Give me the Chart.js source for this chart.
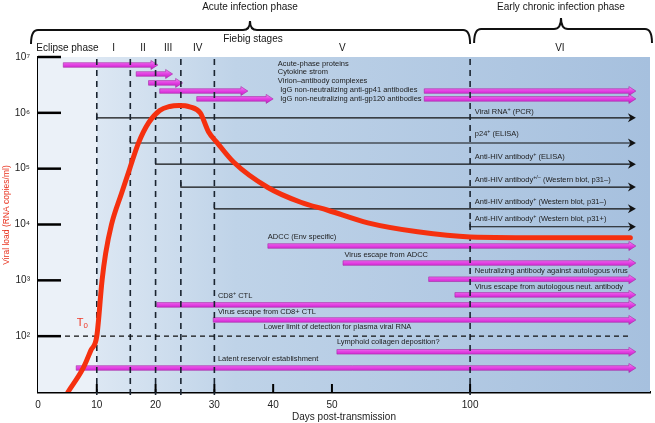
<!DOCTYPE html>
<html>
<head>
<meta charset="utf-8">
<script src="https://cdn.jsdelivr.net/npm/chart.js@4/dist/chart.umd.min.js"></script>
<style>
  html, body { margin: 0; background: #fff; }
  #wrap { width: 655px; height: 423px; }
</style>
</head>
<body>
<div id="wrap"><canvas id="chartViralLoad"></canvas></div>
<script>
/** Viral load curve (days post-transmission, RNA copies/ml) */
const curveDays = [5.1, 7.7, 9.0, 10, 10.9, 11.5, 12.5, 14.2, 15.6, 17.1, 18.8, 20.7, 22.4, 24, 25.8, 27.6, 29, 30.5, 33.3, 39.1, 44.7, 49.3, 63, 81, 100, 130, 158];
const viralLoad = [10, 27, 56, 100, 1000, 3000, 10000, 36000, 100000, 290000, 660000, 1100000, 1300000, 1350000, 1280000, 1000000, 460000, 290000, 130000, 46000, 25000, 18000, 10700, 7400, 6000, 5800, 5800];
const detectionLimit = 100;

/** Axis ticks */
const xTickDays = [0, 10, 20, 30, 40, 50, 100];
const yTickPowers = [2, 3, 4, 5, 6, 7];

/** Fiebig stages: boundaries in days, and names */
const stageBounds = [0, 10, 15.7, 20, 24.3, 30, 100, 165];
const stageNames = ['Eclipse phase', 'I', 'II', 'III', 'IV', 'V', 'VI'];

/** Host responses (magenta arrows): start and end day */
const responseStart = [4.3, 16.7, 18.8, 20.7, 27, 83.4, 83.4, 39.1, 54, 85, 94.5, 20.2, 29.8, 51.8, 6.5];
const responseEnd = [20.4, 22.9, 24.6, 35.7, 40, 160, 160, 160, 160, 160, 160, 160, 160, 160, 160];
// vertical row of each arrow, in log10 units of the viral load axis
const responseRow = [6.857, 6.696, 6.536, 6.39, 6.25, 6.39, 6.25, 3.615, 3.31, 3.02, 2.74, 2.56, 2.29, 1.72, 1.43];

/** Diagnostic tests (black arrows): start day */
const testStart = [10, 15.7, 20, 24.3, 30, 100];
const testEnd = 160;
const testRow = [5.91, 5.46, 5.08, 4.67, 4.28, 3.96];

/** Text labels: text, day and row */
const labelText = [
  'Acute-phase proteins', 'Cytokine strom', 'Virion\u2013antibody complexes',
  'IgG non-neutralizing anti-gp41 antibodies', 'IgG non-neutralizing anti-gp120 antibodies',
  'Viral RNA^{+} (PCR)', 'p24^{+} (ELISA)', 'Anti-HIV antibody^{+} (ELISA)',
  'Anti-HIV antibody^{+/\u2013} (Western blot, p31\u2013)', 'Anti-HIV antibody^{+} (Western blot, p31\u2013)',
  'Anti-HIV antibody^{+} (Western blot, p31+)',
  'ADCC (Env specific)', 'Virus escape from ADCC', 'Neutralizing antibody against autologous virus',
  'Virus escape from autologous neut. antibody', 'CD8^{+} CTL', 'Virus escape from CD8+ CTL',
  'Lower limit of detection for plasma viral RNA', 'Lymphoid collagen deposition?',
  'Latent reservoir establishment'
];
const labelDay = [40.8, 40.8, 40.8, 41.2, 41.2, 101.7, 101.7, 101.7, 101.7, 101.7, 101.7,
  39.1, 54.5, 101.7, 101.7, 30.6, 30.6, 38.4, 51.8, 30.6];
const labelRow = [6.875, 6.73, 6.57, 6.41, 6.25, 6.015, 5.62, 5.21, 4.80, 4.40, 4.10,
  3.78, 3.45, 3.17, 2.88, 2.72, 2.43, 2.16, 1.90, 1.59];

const FONT = '"Liberation Sans", Arial, sans-serif';

/** Days 0-50 are drawn at full width, later days are compressed */
function toPos(d) {
  return d <= 50 ? d : 50 + (d - 50) * 0.47;
}

const supDigits = ['\u2070', '\u00b9', '\u00b2', '\u00b3', '\u2074', '\u2075', '\u2076', '\u2077'];

/** Draw text with ^{..} superscripts and _{..} subscripts */
function drawRich(ctx, text, x, y, size, align) {
  const parts = text.split(/(\^\{[^}]*\}|_\{[^}]*\})/).filter(Boolean);
  const items = parts.map(p => {
    let s = size, dy = 0, t = p;
    if (p.startsWith('^{')) { s = size * 0.72; dy = -size * 0.35; t = p.slice(2, -1); }
    else if (p.startsWith('_{')) { s = size * 0.72; dy = size * 0.3; t = p.slice(2, -1); }
    ctx.font = s + 'px ' + FONT;
    return { t, s, dy, w: ctx.measureText(t).width };
  });
  const total = items.reduce((a, b) => a + b.w, 0);
  let cx = align === 'center' ? x - total / 2 : x;
  ctx.textAlign = 'left';
  ctx.textBaseline = 'middle';
  items.forEach(it => {
    ctx.font = it.s + 'px ' + FONT;
    ctx.fillText(it.t, cx, y + it.dy);
    cx += it.w;
  });
}

function magentaArrow(ctx, x1, x2, y) {
  const h = 2.3, head = 7, hh = 4.5;
  const g = ctx.createLinearGradient(0, y - hh, 0, y + hh);
  g.addColorStop(0, '#f48cf4');
  g.addColorStop(0.5, '#e23fe2');
  g.addColorStop(1, '#c41fc4');
  ctx.beginPath();
  ctx.moveTo(x1, y - h);
  ctx.lineTo(x2 - head, y - h);
  ctx.lineTo(x2 - head, y - hh);
  ctx.lineTo(x2, y);
  ctx.lineTo(x2 - head, y + hh);
  ctx.lineTo(x2 - head, y + h);
  ctx.lineTo(x1, y + h);
  ctx.closePath();
  ctx.fillStyle = g;
  ctx.fill();
  ctx.strokeStyle = '#a42aa4';
  ctx.lineWidth = 0.6;
  ctx.stroke();
}

function blackArrow(ctx, x1, x2, y) {
  ctx.strokeStyle = '#111';
  ctx.lineWidth = 1.2;
  ctx.beginPath();
  ctx.moveTo(x1, y - 5);
  ctx.lineTo(x1, y);
  ctx.lineTo(x2 - 3, y);
  ctx.stroke();
  ctx.fillStyle = '#111';
  ctx.beginPath();
  ctx.moveTo(x2 - 8, y - 4.5);
  ctx.lineTo(x2, y);
  ctx.lineTo(x2 - 8, y + 4.5);
  ctx.lineTo(x2 - 5.5, y);
  ctx.closePath();
  ctx.fill();
}

function brace(ctx, x1, x2, xm, y, depth, notch) {
  const r = 7;
  ctx.beginPath();
  ctx.moveTo(x1, y + depth);
  ctx.quadraticCurveTo(x1, y, x1 + r, y);
  ctx.lineTo(xm - r, y);
  ctx.quadraticCurveTo(xm, y, xm, y - notch);
  ctx.quadraticCurveTo(xm, y, xm + r, y);
  ctx.lineTo(x2 - r, y);
  ctx.quadraticCurveTo(x2, y, x2, y + depth);
  ctx.stroke();
}

/** Background bands, arrows, labels, stage lines, brackets */
const diagramPlugin = {
  id: 'diagram',
  beforeDatasetsDraw(chart) {
    const { ctx, chartArea: a, scales: { x, row } } = chart;
    const px = d => x.getPixelForValue(toPos(d));
    ctx.save();
    // background
    const x10 = px(stageBounds[1]);
    ctx.fillStyle = '#ebf1f8';
    ctx.fillRect(a.left, a.top, x10 - a.left, a.bottom - a.top);
    const g = ctx.createLinearGradient(x10, 0, a.right, 0);
    g.addColorStop(0, '#dce7f3');
    g.addColorStop(0.25, '#bfd3e8');
    g.addColorStop(1, '#a6c0de');
    ctx.fillStyle = g;
    ctx.fillRect(x10, a.top, a.right - x10, a.bottom - a.top);

    // diagnostic tests
    testStart.forEach((d, i) => blackArrow(ctx, px(d), px(testEnd), row.getPixelForValue(testRow[i])));
    // host responses
    responseStart.forEach((d, i) => magentaArrow(ctx, px(d), px(responseEnd[i]), row.getPixelForValue(responseRow[i])));
    // labels
    ctx.fillStyle = '#1c1c1c';
    labelText.forEach((t, i) => drawRich(ctx, t, px(labelDay[i]), row.getPixelForValue(labelRow[i]), 7.5, 'left'));

    // stage boundaries
    ctx.strokeStyle = '#1a2430';
    ctx.lineWidth = 1.6;
    ctx.setLineDash([6, 5]);
    stageBounds.slice(1, 7).forEach(d => {
      ctx.beginPath();
      ctx.moveTo(px(d), a.top + 2);
      ctx.lineTo(px(d), a.bottom + 3);
      ctx.stroke();
    });
    ctx.restore();
  },
  afterDatasetsDraw(chart) {
    const { ctx, chartArea: a, scales: { x, y } } = chart;
    ctx.save();
    ctx.strokeStyle = '#000';
    ctx.lineWidth = 2.5;
    yTickPowers.forEach(p => {
      const yy = y.getPixelForValue(10 ** p);
      ctx.beginPath();
      ctx.moveTo(a.left, yy);
      ctx.lineTo(a.left + 23, yy);
      ctx.stroke();
    });
    ctx.lineWidth = 2;
    xTickDays.slice(1).forEach(d => {
      const xx = x.getPixelForValue(toPos(d));
      ctx.beginPath();
      ctx.moveTo(xx, a.bottom);
      ctx.lineTo(xx, a.bottom - 8);
      ctx.stroke();
    });
    ctx.restore();
  },
  afterDraw(chart) {
    const { ctx, chartArea: a, scales: { x, row } } = chart;
    const px = d => x.getPixelForValue(toPos(d));
    ctx.save();
    ctx.fillStyle = '#151515';
    // stage names
    stageNames.forEach((n, i) => {
      const xm = (px(stageBounds[i]) + Math.min(px(stageBounds[i + 1]), a.right)) / 2;
      drawRich(ctx, n, xm, 48, 10, 'center');
    });
    drawRich(ctx, 'Fiebig stages', 253, 39, 10, 'center');
    drawRich(ctx, 'Acute infection phase', 250, 7, 10, 'center');
    drawRich(ctx, 'Early chronic infection phase', 561, 7, 10, 'center');
    // brackets
    ctx.strokeStyle = '#111';
    ctx.lineWidth = 2;
    brace(ctx, a.left - 7, px(100), 250, 30, 14, 9);
    brace(ctx, px(100) + 4, a.right + 2, 561, 29, 14, 11);
    // T0 marker
    ctx.fillStyle = '#ee3a2a';
    drawRich(ctx, 'T_{0}', px(6.6), row.getPixelForValue(2.24), 11, 'left');
    // y title
    ctx.translate(7, 215);
    ctx.rotate(-Math.PI / 2);
    ctx.fillStyle = '#e8321e';
    drawRich(ctx, 'Viral load (RNA copies/ml)', 0, 0, 8.5, 'center');
    ctx.restore();
  }
};

const _chartViralLoad = document.getElementById('chartViralLoad');

new Chart(_chartViralLoad, {
  type: 'line',
  data: {
    datasets: [
      {
        label: 'Viral load',
        data: curveDays.map((d, i) => ({ x: toPos(d), y: viralLoad[i] })),
        borderColor: '#f5300f',
        borderWidth: 5,
        borderCapStyle: 'round',
        pointRadius: 0,
        cubicInterpolationMode: 'monotone',
        order: 0
      },
      {
        label: 'Lower limit of detection',
        data: [{ x: 0, y: detectionLimit }, { x: toPos(158), y: detectionLimit }],
        borderColor: '#111',
        borderWidth: 1.2,
        borderDash: [5, 4],
        pointRadius: 0,
        order: 1
      }
    ]
  },
  options: {
    responsive: true,
    maintainAspectRatio: false,
    animation: false,
    layout: { padding: { top: 57, right: 5, left: 0, bottom: 0 } },
    plugins: { legend: { display: false }, tooltip: { enabled: false } },
    scales: {
      x: {
        type: 'linear',
        min: 0,
        max: 104.1,
        grid: { display: false, drawTicks: false },
        border: { color: '#000', width: 2.5 },
        ticks: {
          color: '#222',
          padding: 7,
          font: { family: FONT, size: 10 },
          callback: (v, i) => xTickDays[i]
        },
        afterBuildTicks: s => { s.ticks = xTickDays.map(d => ({ value: toPos(d) })); },
        afterFit: s => { s.height = 31; },
        title: {
          display: true,
          text: 'Days post-transmission',
          color: '#222',
          font: { family: FONT, size: 10 },
          padding: { top: 0, bottom: 0 }
        }
      },
      y: {
        type: 'logarithmic',
        min: 10,
        max: 1e7,
        grid: { display: false, drawTicks: false },
        border: { color: '#000', width: 2.5 },
        ticks: {
          color: '#222',
          padding: 8,
          font: { family: FONT, size: 10 },
          callback: v => '10' + supDigits[Math.round(Math.log10(v))]
        },
        afterBuildTicks: s => { s.ticks = yTickPowers.map(p => ({ value: 10 ** p })); },
        afterFit: s => { s.width = 38; }
      },
      row: { type: 'linear', axis: 'y', position: 'left', min: 1, max: 7, display: false }
    }
  },
  plugins: [diagramPlugin]
});
</script>
</body>
</html>
